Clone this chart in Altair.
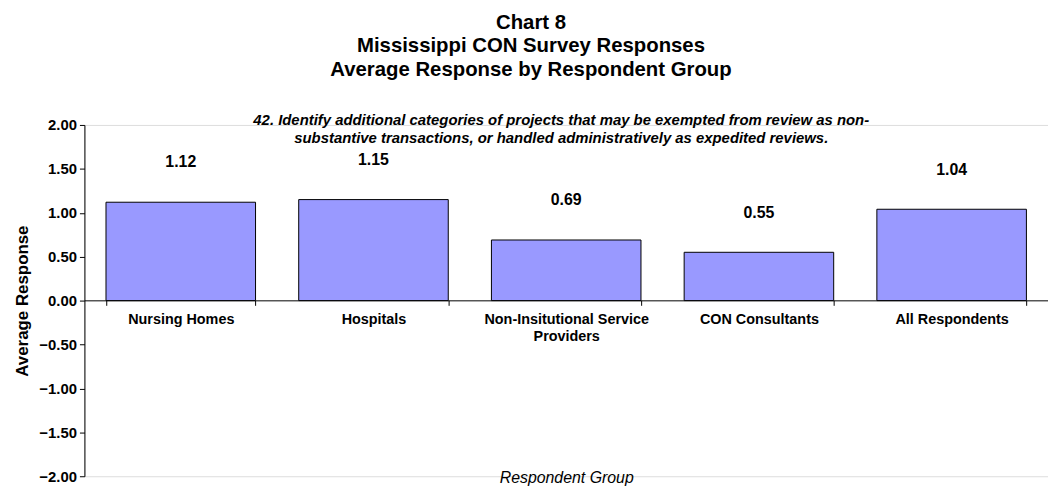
import altair as alt
import pandas as pd

groups = ["Nursing Homes", "Hospitals", "Non-Insitutional Service Providers", "CON Consultants", "All Respondents"]
values = [1.12, 1.15, 0.69, 0.55, 1.04]
y_ticks = [-2.0, -1.5, -1.0, -0.5, 0.0, 0.5, 1.0, 1.5, 2.0]
annotation = ["42. Identify additional categories of projects that may be exempted from review as non-",
              "substantive   transactions, or handled administratively as expedited reviews."]
title_lines = ["Chart 8", "Mississippi CON Survey Responses", "Average Response by Respondent Group"]

df = pd.DataFrame({"group": groups, "value": values,
                   "label": [f"{v:.2f}" for v in values]})

W, H = 971, 354
FONT = "Liberation Sans"

label_expr = ("datum.value == 'Non-Insitutional Service Providers' ? "
              "['Non-Insitutional Service', 'Providers'] : datum.value")

x_enc = alt.X("group:N", sort=groups,
              scale=alt.Scale(paddingInner=0.224, paddingOuter=0.112),
              axis=alt.Axis(title="Respondent Group", titleFontStyle="italic",
                            titleFontWeight="normal", titleFontSize=16, titleFont=FONT,
                            titleColor="black",
                            labelAngle=0, labelFont=FONT, labelFontSize=14.5,
                            labelFontWeight="bold", labelColor="black",
                            labelExpr=label_expr, labelPadding=7, labelLineHeight=17,
                            tickBand="extent", tickSize=5, tickColor="black",
                            domainColor="black", offset=-(H * 177 / 353.5),
                            titlePadding=128, labelLimit=300))

y_scale = alt.Scale(domain=[-2, 2], nice=False)

bars = alt.Chart(df).mark_bar(color="#9999FF", stroke="black", strokeWidth=1).encode(
    x=x_enc,
    y=alt.Y("value:Q", scale=y_scale,
            axis=alt.Axis(title="Average Response", values=y_ticks, format=".2f",
                          titleFont=FONT, titleFontSize=17, titleFontWeight="bold",
                          titleColor="black", titlePadding=7,
                          labelFont=FONT, labelFontSize=15, labelFontWeight="bold",
                          labelColor="black", grid=False, tickSize=5,
                          tickColor="black", domainColor="black", labelPadding=3)),
)

texts = alt.Chart(df).mark_text(font=FONT, fontSize=16, fontWeight="bold",
                                color="black", dy=-40).encode(
    x=alt.X("group:N", sort=groups),
    y=alt.Y("value:Q", scale=y_scale),
    text="label:N",
)

ann = alt.Chart(pd.DataFrame({"t": [annotation]})).mark_text(
    font=FONT, fontSize=15, fontWeight="bold", fontStyle="italic", color="black",
    lineHeight=18, baseline="middle", align="center").encode(
    x=alt.value(W * 0.5 - 5), y=alt.value(-5), text="t")

chart = alt.layer(bars, texts, ann).properties(
    width=W, height=H,
    title=alt.TitleParams(
        text=title_lines,
        font=FONT, fontSize=20.5, fontWeight="bold", color="black", lineHeight=23.5,
        anchor="middle", frame="bounds", offset=33),
    autosize=alt.AutoSizeParams(type="none"),
    padding={"left": 77, "top": 116, "right": 0, "bottom": 9},
).configure_view(stroke=None).configure(background="white")

chart.save("out.html", embed_options={"renderer": "svg", "actions": False})
